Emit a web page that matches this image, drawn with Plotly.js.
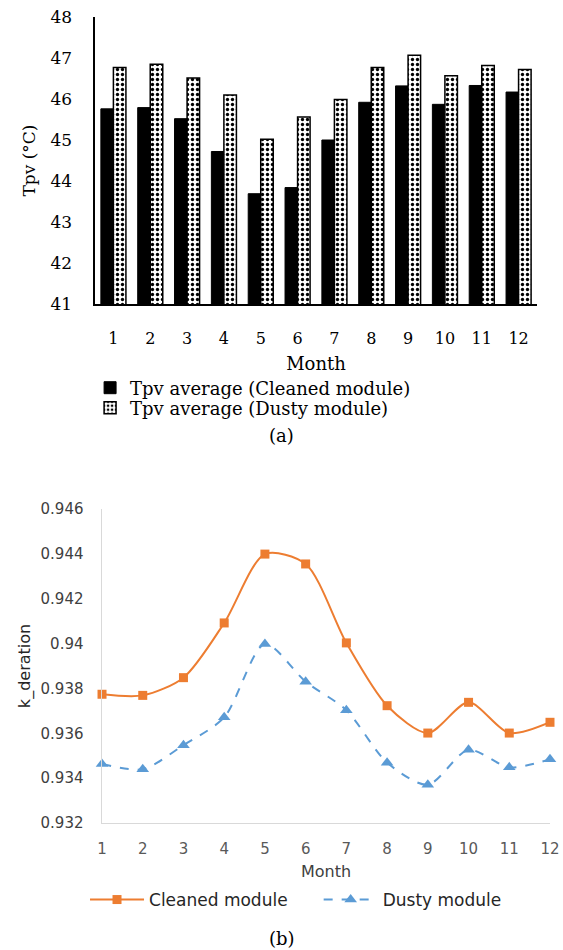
<!DOCTYPE html>
<html>
<head>
<meta charset="utf-8">
<script src="https://cdn.plot.ly/plotly-3.0.1.min.js"></script>
<style>html,body{margin:0;padding:0;background:#fff;}#chart{width:563px;height:950px;}</style>
</head>
<body>
<div id="chart"></div>
<script>
// Panel (a): average PV temperature per month
const months = [1,2,3,4,5,6,7,8,9,10,11,12];
const monthLabels = ["1","2","3","4","5","6","7","8","9","10","11","12"];
const tpvCleaned = [45.76, 45.79, 45.52, 44.72, 43.69, 43.84, 45.0, 45.92, 46.32, 45.87, 46.33, 46.17];
const tpvDusty   = [46.77, 46.85, 46.51, 46.10, 45.02, 45.56, 45.99, 46.77, 47.07, 46.57, 46.82, 46.72];
const tpvTicks = [41,42,43,44,45,46,47,48];

// Panel (b): k_deration per month
const kCleaned = [0.93774, 0.93769, 0.93848, 0.94092, 0.94399, 0.94355, 0.94003, 0.93723, 0.93601, 0.93738, 0.93601, 0.93649];
const kDusty   = [0.93463, 0.93440, 0.93547, 0.93671, 0.93998, 0.93830, 0.93703, 0.93469, 0.93371, 0.93526, 0.93448, 0.93484];
const kTicks = [0.932, 0.934, 0.936, 0.938, 0.94, 0.942, 0.944, 0.946];
const kTickText = ["0.932","0.934","0.936","0.938","0.94","0.942","0.944","0.946"];

const serif = "DejaVu Serif";
const sans = "DejaVu Sans";

const traces = [
  {
    type: "bar", x: months, y: tpvCleaned, name: "Tpv average (Cleaned module)",
    xaxis: "x", yaxis: "y", legend: "legend",
    marker: {color: "#000000", line: {color: "#000000", width: 1}}
  },
  {
    type: "bar", x: months, y: tpvDusty, name: "Tpv average (Dusty module)",
    xaxis: "x", yaxis: "y", legend: "legend3",
    marker: {color: "#ffffff", line: {color: "#000000", width: 1.5},
      pattern: {shape: ".", fgcolor: "#000000", bgcolor: "#ffffff", size: 5, solidity: 0.35, fillmode: "replace"}}
  },
  {
    type: "scatter", mode: "lines+markers", x: months, y: kCleaned, name: "Cleaned module",
    xaxis: "x2", yaxis: "y2", legend: "legend2",
    line: {color: "#ED7D31", width: 2, shape: "spline", smoothing: 0.8},
    marker: {symbol: "square", size: 9, color: "#ED7D31"},
    cliponaxis: false
  },
  {
    type: "scatter", mode: "lines+markers", x: months, y: kDusty, name: "Dusty module",
    xaxis: "x2", yaxis: "y2", legend: "legend4",
    line: {color: "#5B9BD5", width: 2, dash: "dash", shape: "spline", smoothing: 0.8},
    marker: {symbol: "triangle-up", size: 11, color: "#5B9BD5"},
    cliponaxis: false
  }
];

const legA = {xanchor: "left", yanchor: "middle", orientation: "v", bgcolor: "rgba(0,0,0,0)",
  font: {family: serif, size: 18, color: "#000000"}, itemwidth: 30};
const legB = {xanchor: "left", yanchor: "middle", orientation: "h", bgcolor: "rgba(0,0,0,0)",
  font: {family: sans, size: 17, color: "#262626"}, itemwidth: 54};

const layout = {
  width: 563, height: 950,
  margin: {l: 0, r: 0, t: 0, b: 0},
  paper_bgcolor: "#ffffff", plot_bgcolor: "#ffffff",
  showlegend: true,
  barmode: "group", bargap: 0.32, bargroupgap: 0,
  xaxis: {
    domain: [0.1687, 0.9538], anchor: "y",
    range: [0.5, 12.5], tickmode: "array", tickvals: months, ticktext: monthLabels,
    showgrid: false, zeroline: false, showline: true, linecolor: "#000000", linewidth: 1.5,
    ticks: "", ticklen: 0, ticklabelstandoff: 19,
    tickfont: {family: serif, size: 16, color: "#000000"},
    title: {text: "Month", font: {family: serif, size: 18, color: "#000000"}, standoff: 10}
  },
  yaxis: {
    domain: [0.68, 0.9821], anchor: "x",
    range: [41, 48], tickmode: "array", tickvals: tpvTicks,
    showgrid: false, zeroline: false, showline: true, linecolor: "#000000", linewidth: 1.5,
    ticks: "", ticklen: 0, ticklabelstandoff: 18,
    tickfont: {family: serif, size: 17, color: "#000000"},
    title: {text: "Tpv (°C)", font: {family: serif, size: 17, color: "#000000"}, standoff: 10}
  },
  xaxis2: {
    domain: [0.1812, 0.9769], anchor: "y2",
    range: [1, 12], tickmode: "array", tickvals: months, ticktext: monthLabels,
    showgrid: false, zeroline: false, showline: true, linecolor: "#d9d9d9", linewidth: 1.5,
    ticks: "", ticklen: 0, ticklabelstandoff: 12,
    tickfont: {family: sans, size: 15, color: "#595959"},
    title: {text: "Month", font: {family: sans, size: 16, color: "#404040"}, standoff: 8}
  },
  yaxis2: {
    domain: [0.1337, 0.4642], anchor: "x2",
    range: [0.932, 0.946], tickmode: "array", tickvals: kTicks, ticktext: kTickText,
    showgrid: false, zeroline: false, showline: true, linecolor: "#d9d9d9", linewidth: 1.5,
    ticks: "", ticklen: 0, ticklabelstandoff: 14,
    tickfont: {family: sans, size: 15, color: "#404040"},
    title: {text: "k_deration", font: {family: sans, size: 16, color: "#262626"}, standoff: 6}
  },
  legend:  Object.assign({}, legA, {x: 0.16, y: 1 - 388/950}),
  legend3: Object.assign({}, legA, {x: 0.16, y: 1 - 408/950}),
  legend2: Object.assign({}, legB, {x: 0.151, y: 1 - 900/950}),
  legend4: Object.assign({}, legB, {x: 0.566, y: 1 - 900/950}),
  annotations: [
    {xref: "paper", yref: "paper", x: 0.5, y: 1 - 435/950, xanchor: "center", yanchor: "middle",
     text: "(a)", showarrow: false, font: {family: serif, size: 18, color: "#000000"}},
    {xref: "paper", yref: "paper", x: 0.5, y: 1 - 938/950, xanchor: "center", yanchor: "middle",
     text: "(b)", showarrow: false, font: {family: serif, size: 18, color: "#000000"}}
  ]
};

Plotly.newPlot("chart", traces, layout, {displayModeBar: false, staticPlot: true});
</script>
</body>
</html>
